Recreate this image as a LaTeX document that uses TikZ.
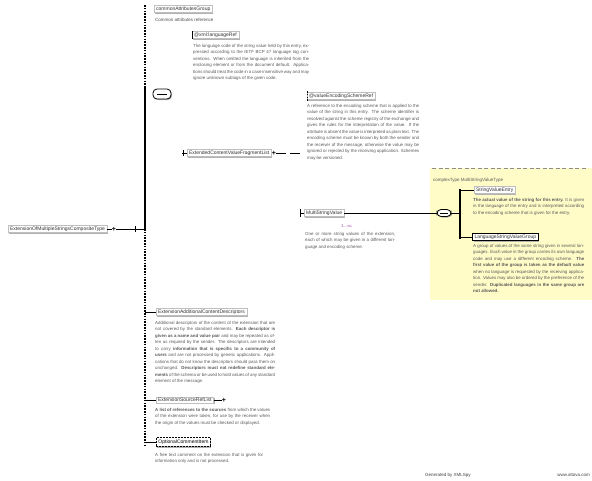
\documentclass[tikz,border=0pt]{standalone}
\usepackage{fontspec}
\setmainfont{Liberation Sans}
\usetikzlibrary{shadows}
\begin{document}
\begin{tikzpicture}[x=1pt,y=-1pt,
  elbox/.style={draw=black!25, line width=0.3pt, fill=white, anchor=west,
    inner xsep=2pt, inner ysep=1.2pt, font=\fontsize{5}{6}\selectfont, text=black!80,
    drop shadow={shadow xshift=1pt, shadow yshift=-1.2pt, fill=black!30, opacity=1}},
  boldbox/.style={elbox, draw=black, line width=1pt},
  optbox/.style={elbox, draw=black, line width=0.9pt, dash pattern=on 2pt off 1pt,
    inner ysep=2pt, text=black},
  desc/.style={anchor=north west, inner sep=0pt, align=justify,
    font=\fontsize{4.4}{6.5}\selectfont, text=black!65},
  conn/.style={line width=0.9pt, black},
  dconn/.style={line width=1.2pt, black, dash pattern=on 1.6pt off 1.2pt},
  seqsym/.style={draw=black, line width=0.8pt, rounded corners=4pt, minimum width=18pt,
    minimum height=10pt, inner sep=0pt, fill=white,
    drop shadow={shadow xshift=1pt, shadow yshift=-1pt, fill=black!30, opacity=1}},
  plusbtn/.style={inner sep=0pt, font=\fontsize{7}{7}\bfseries\selectfont},
  small/.style={inner sep=0pt, font=\fontsize{4.5}{6}\selectfont, text=black!70}
]
\useasboundingbox (0,0) rectangle (592,480);

% yellow region
\fill[yellow!22] (430,168) rectangle (592,300);
\draw[black!45, line width=0.8pt, dash pattern=on 4pt off 2.5pt] (432,168) -- (588,168);
\node[small, anchor=west, text=black!65] (ytitle) at (433,180) {complexType MultiStringValueType};

% main bracket
\coordinate (vtop) at (145,5);
\coordinate (vseq) at (145,88);
\coordinate (vroot) at (145,229);
\coordinate (vbot) at (145,445);
\draw[dconn] (vtop) -- (vseq);
\draw[conn, line width=1.1pt] (vseq) -- (vroot);
\draw[dconn] (vroot) -- (vbot);

% root
\node[elbox] (root) at (8,229) {ExtensionOfMultipleStringsCompositeType};
\node[plusbtn] (rootplus) at (114,229) {+};
\coordinate (roottick) at (135,229);
\draw[conn] (root.east) -- (rootplus);
\draw[conn] (rootplus) -- (vroot);
\draw[conn] ([yshift=-3pt]roottick) -- ([yshift=3pt]roottick);

% element 1 (attribute group)
\node[elbox] (a1) at (154,9) {commonAttributesGroup};
\node[small, anchor=west] (a1t) at (155,20) {Common attributes reference};

% element 2
\node[elbox] (a2) at (192,35) {@xml:languageRef};
\draw[conn] ([yshift=-4pt]a2.west) -- ([yshift=4pt]a2.west);
\node[desc, text width=116pt] (a2d) at (193,44) {The language code of the string value held by this entry, expressed according to the IETF BCP 47 language tag conventions. When omitted the language is inherited from the enclosing element or from the document default. Applications should treat the code in a case insensitive way and may ignore unknown subtags of the given code.};

% sequence symbol
\node[seqsym] (seq1) at (162,94) {};
\draw[black, line width=0.5pt] ([xshift=-5pt]seq1.center) -- ([xshift=5pt]seq1.center);

% element 4
\node[elbox] (a4) at (307,96) {@valueEncodingSchemeRef};
\draw[dconn, line width=1pt] ([yshift=-5pt]a4.west) -- ([yshift=5pt]a4.west);
\node[desc, text width=112pt] (a4d) at (307,104) {A reference to the encoding scheme that is applied to the value of the string in this entry. The scheme identifier is resolved against the scheme registry of the exchange and gives the rules for the interpretation of the value. If the attribute is absent the value is interpreted as plain text. The encoding scheme must be known by both the sender and the receiver of the message, otherwise the value may be ignored or rejected by the receiving application. Schemes may be versioned.};

% element 5
\node[elbox] (a5) at (187,153) {ExtendedContentValueFragmentList};
\draw[conn] ([xshift=-5pt]a5.west) -- (a5.west);
\draw[conn] ([xshift=-4pt,yshift=-3pt]a5.west) -- ([xshift=-4pt,yshift=3pt]a5.west);
\node[plusbtn] (a5plus) at (274,153) {+};
\coordinate (a5end) at (301,153);
\draw[conn, dash pattern=on 10pt off 4pt] (a5plus) -- (a5end);

% element 6
\node[elbox] (a6) at (304,213) {MultiStringValue};
\draw[conn] ([xshift=-4pt]a6.west) -- (a6.west);
\draw[conn] ([xshift=-4pt,yshift=-4pt]a6.west) -- ([xshift=-4pt,yshift=4pt]a6.west);
\node[small, text=violet!70] (a6m) at (347,226) {1..$\infty$};
\node[desc, text width=90pt] (a6d) at (305,232) {One or more string values of the extension, each of which may be given in a different language and encoding scheme.};
\node[seqsym, minimum width=14pt, minimum height=7pt] (seq2) at (444,213) {};
\draw[black, line width=0.5pt] ([xshift=-4pt]seq2.center) -- ([xshift=4pt]seq2.center);
\draw[conn] (a6.east) -- (seq2.west);
\coordinate (bar) at (460,213);
\coordinate (bartop) at (460,189);
\coordinate (barbot) at (460,239);
\draw[conn] (seq2.east) -- (bar);
\draw[conn, line width=1.2pt] (bartop) -- (barbot);

% yellow children
\node[elbox] (y1) at (474,190) {StringValueEntry};
\draw[conn] (460,190) -- (y1.west);
\node[desc, text width=111pt] (y1d) at (473,198) {\textbf{The actual value of the string for this entry.} It is given in the language of the entry and is interpreted according to the encoding scheme that is given for the entry.};
\node[boldbox] (y2) at (472,237) {LanguageStringValueGroup};
\draw[conn] (460,237) -- (y2.west);
\node[desc, text width=111pt] (y2d) at (473,244) {A group of values of the same string given in several languages. Each value in the group carries its own language code and may use a different encoding scheme. \textbf{The first value of the group is taken as the default value} when no language is requested by the receiving application. Values may also be ordered by the preference of the sender. \textbf{Duplicated languages in the same group are not allowed.}};

% element 8
\node[elbox] (a8) at (156,312) {ExtensionAdditionalContentDescriptors};
\draw[conn] (145,312) -- (a8.west);
\node[desc, text width=120pt] (a8d) at (155,321) {Additional descriptors of the content of the extension that are not covered by the standard elements. \textbf{Each descriptor is given as a name and value pair} and may be repeated as often as required by the sender. The descriptors are intended to carry \textbf{information that is specific to a community of users} and are not processed by generic applications. Applications that do not know the descriptors should pass them on unchanged. \textbf{Descriptors must not redefine standard elements} of the schema or be used to hold values of any standard element of the message.};

% element 9
\node[elbox] (a9) at (156,400) {ExtensionSourceRefList};
\draw[conn] (145,400) -- (a9.west);
\node[plusbtn] (a9plus) at (224,400) {+};
\draw[conn] (a9.east) -- (a9plus);
\node[desc, text width=115pt] (a9d) at (155,408) {\textbf{A list of references to the sources} from which the values of the extension were taken, for use by the receiver when the origin of the values must be checked or displayed.};

% element 10
\node[optbox] (a10) at (156,442) {OptionalCommentItem};
\draw[conn] (145,442) -- (a10.west);
\node[desc, text width=108pt] (a10d) at (155,453) {A free text comment on the extension that is given for information only and is not processed.};

% footer
\node[small, anchor=west, text=black!75] (gen) at (425,475) {Generated by XMLSpy};
\node[small, anchor=east, text=black!75] (web) at (590,475) {www.altova.com};
\end{tikzpicture}
\end{document}
